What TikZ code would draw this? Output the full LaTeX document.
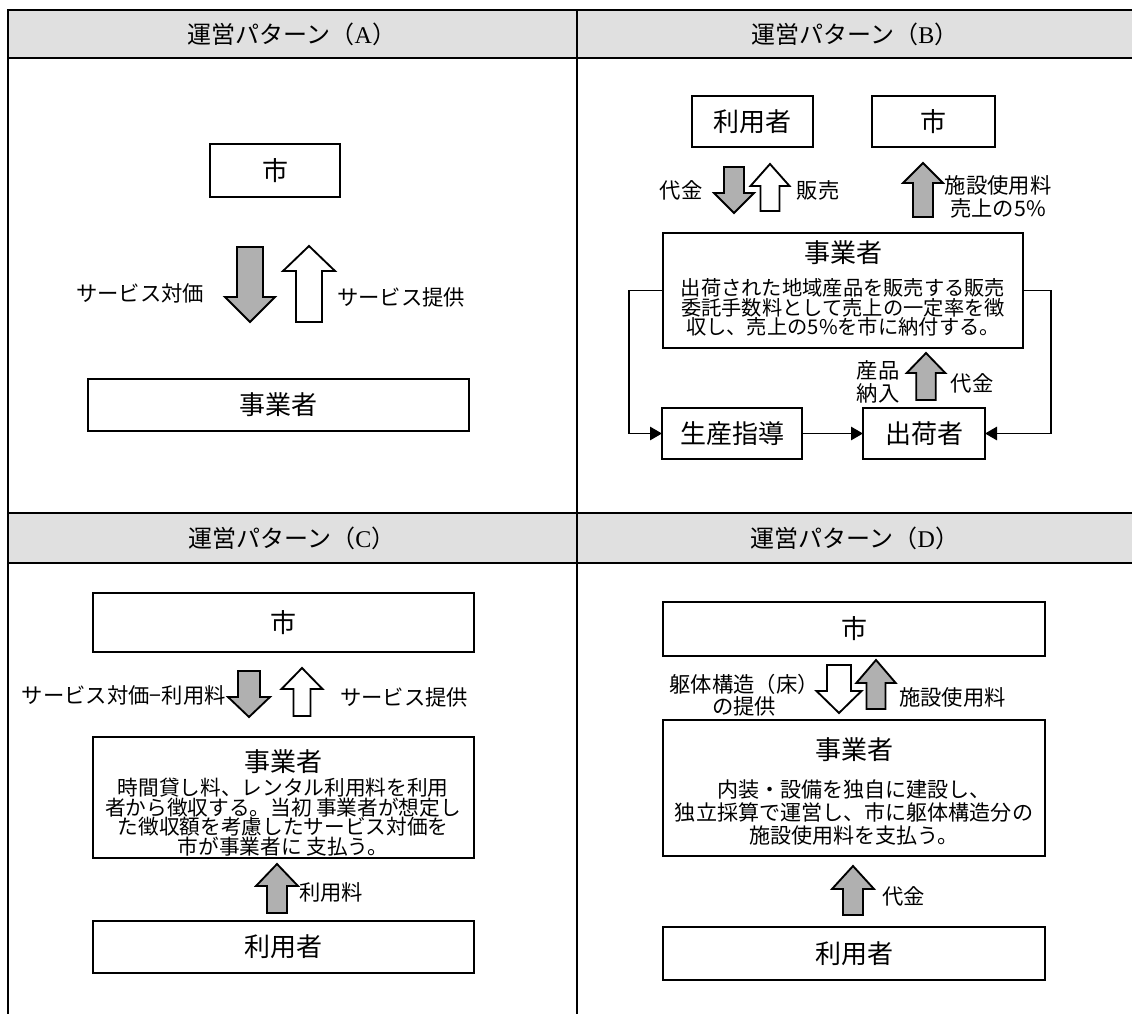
\documentclass[tikz,border=0pt]{standalone}
\usepackage{fontspec}
\setmainfont{Noto Sans CJK JP}
\newfontfamily\latinserif{Liberation Serif}
\usetikzlibrary{arrows.meta}
\definecolor{hdrgray}{RGB}{224,224,224}
\definecolor{argray}{RGB}{176,176,176}
\newcommand{\bx}[6]{\node[box,minimum width={(#4-#2)*0.75pt},minimum height={(#5-#3)*0.75pt}] (#1) at ({(#2+#4)/2},{(#3+#5)/2}) {#6};}
% #1 centre x, #2 tip y, #3 tail y, #4 shaft half width, #5 head half width, #6 head base y, #7 fill
\newcommand{\blockarr}[7]{\draw[blk,fill=#7] ({#1-#4},#3) -- ({#1-#4},#6) -- ({#1-#5},#6) -- (#1,#2) -- ({#1+#5},#6) -- ({#1+#4},#6) -- ({#1+#4},#3) -- cycle;}
\begin{document}
\begin{tikzpicture}[x=0.75pt,y=-0.75pt,
  box/.style={draw,line width=1.6pt,inner sep=0pt,outer sep=0pt,fill=white,font=\fontsize{19.5}{22}\selectfont},
  big/.style={font=\fontsize{19.5}{22}\selectfont,inner sep=0pt},
  blk/.style={draw,line width=1.4pt,line join=miter},
  tbl/.style={line width=1.8pt,line cap=rect},
  hdr/.style={font=\fontsize{18}{20}\selectfont,inner sep=0pt},
  lab/.style={font=\fontsize{16}{17.25}\selectfont,inner sep=0pt},
  labD/.style={font=\fontsize{16}{16.5}\selectfont,inner sep=0pt},
  bodyB/.style={font=\fontsize{15.2}{14.6}\selectfont,inner sep=0pt,align=center},
  bodyC/.style={font=\fontsize{15.5}{14.6}\selectfont,inner sep=0pt,align=center},
  bodyD/.style={font=\fontsize{15.8}{16.9}\selectfont,inner sep=0pt,align=center},
  conn/.style={line width=1.4pt,-{Triangle[length=9pt,width=10pt]}}]
\useasboundingbox (0,0) rectangle (1132,1014);
\fill[white] (0,0) rectangle (1132,1014);
% table
\fill[hdrgray] (8,10) rectangle (1132,58);
\fill[hdrgray] (8,513) rectangle (1132,563);
\draw[tbl] (8,10) -- (1132,10) (8,58) -- (1132,58) (8,513) -- (1132,513) (8,563) -- (1132,563)
  (8,10) -- (8,1014) (577,10) -- (577,1014);
\node[hdr] (hA) at (292,34) {運営パターン（{\latinserif A}）};
\node[hdr] (hB) at (855,34) {運営パターン（{\latinserif B}）};
\node[hdr] (hC) at (292,538) {運営パターン（{\latinserif C}）};
\node[hdr] (hD) at (855,538) {運営パターン（{\latinserif D}）};
% panel A
\bx{aC}{210}{144}{340}{197}{市}
\blockarr{250}{322}{247}{13}{25}{297}{argray}
\blockarr{309}{246}{322}{13}{26}{271}{white}
\node[lab] (aL1) at (140,293) {サービス対価};
\node[lab] (aL2) at (401,297) {サービス提供};
\bx{aJ}{88}{379}{469}{431}{事業者}
% panel B
\bx{bU}{692}{96}{813}{147}{利用者}
\bx{bC}{872}{96}{995}{147}{市}
\node[lab] (bL1) at (681,190) {代金};
\blockarr{734}{213}{167}{10}{20}{193}{argray}
\blockarr{770}{164}{211}{9.5}{19.5}{186}{white}
\node[lab] (bL2) at (818,190) {販売};
\blockarr{923}{163}{217}{10}{20}{183}{argray}
\node[lab,align=center] (bL3) at (998,196.5) {施設使用料\\売上の5\%};
\bx{bJ}{663}{233}{1023}{348}{}
\node[big] (bJt) at (843,253) {事業者};
\node[bodyB] (bJb) at (843,307.5) {出荷された地域産品を販売する販売\\委託手数料として売上の一定率を徴\\収し、売上の5\%を市に納付する。};
\bx{bS}{662}{408}{802}{459}{生産指導}
\bx{bK}{863}{408}{985}{459}{出荷者}
\blockarr{926}{353}{400}{9.7}{19.3}{373}{argray}
\node[lab,align=center] (bL4) at (878,381.5) {産品\\納入};
\node[lab] (bL5) at (972,383) {代金};
\draw[conn] (bJ.west) -- ++(-34,0) |- (bS.west);
\draw[conn] (bJ.east) -- ++(28,0) |- (bK.east);
\draw[conn] (bS.east) -- (bK.west);
% panel C
\bx{cC}{93}{593}{474}{652}{市}
\node[lab,anchor=east] (cL1) at (226,695) {サービス対価−利用料};
\blockarr{249}{717}{671}{11}{21}{697}{argray}
\blockarr{302}{668}{716}{8.5}{20.5}{689}{white}
\node[lab,anchor=west] (cL2) at (340,697) {サービス提供};
\bx{cJ}{93}{737}{474}{858}{}
\node[big] (cJt) at (283,762) {事業者};
\node[bodyC] (cJb) at (283,817) {時間貸し料、レンタル利用料を利用\\者から徴収する。当初 事業者が想定し\\た徴収額を考慮したサービス対価を\\市が事業者に 支払う。};
\blockarr{277}{864}{913}{10}{21}{886}{argray}
\node[lab,anchor=west] (cL3) at (299,892) {利用料};
\bx{cU}{93}{921}{474}{973}{利用者}
% panel D
\bx{dC}{663}{602}{1045}{656}{市}
\blockarr{839}{713}{665}{12}{22.5}{691}{white}
\blockarr{876}{660}{709}{9.5}{19.7}{683}{argray}
\node[lab,anchor=west] (dL2) at (899,697) {施設使用料};
\bx{dJ}{663}{720}{1045}{856}{}
\node[labD,align=center] (dL1) at (744,695) {躯体構造（床）\\の提供};
\node[big] (dJt) at (854,750) {事業者};
\node[bodyD] (dJb) at (854,812.5) {内装・設備を独自に建設し、\\独立採算で運営し、市に躯体構造分の\\施設使用料を支払う。};
\blockarr{853}{866}{915}{10}{21}{889}{argray}
\node[lab,anchor=west] (dL3) at (882,896) {代金};
\bx{dU}{663}{927}{1045}{980}{利用者}
\end{tikzpicture}
\end{document}
